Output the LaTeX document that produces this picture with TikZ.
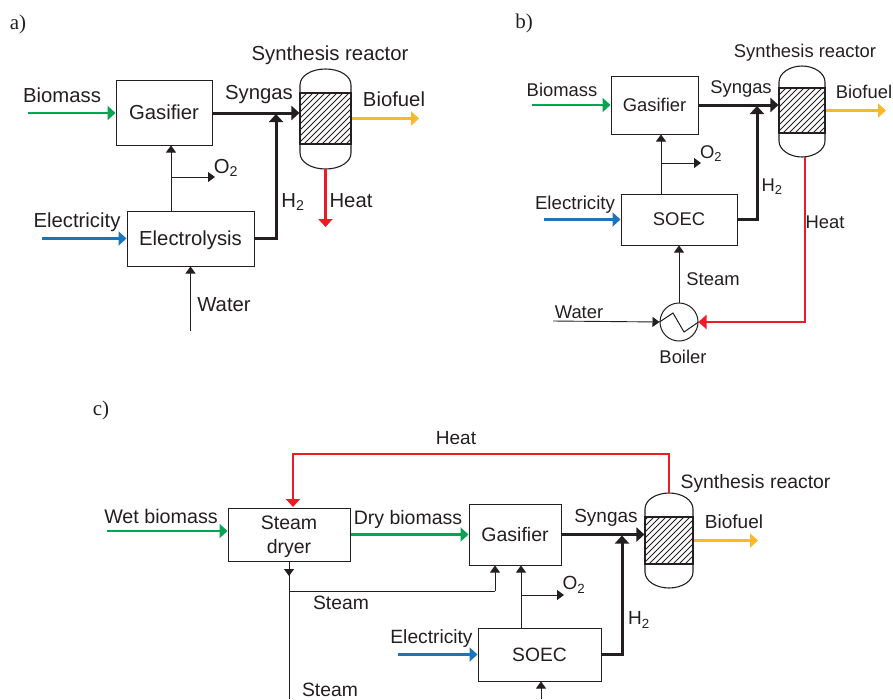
\documentclass[tikz,border=0pt]{standalone}
\usepackage{fontspec}
\setmainfont{Liberation Sans}
\newfontfamily\serifpart{Liberation Serif}
\usetikzlibrary{arrows.meta,calc}
\definecolor{ink}{HTML}{231F20}
\definecolor{cgreen}{HTML}{00A651}
\definecolor{cblue}{HTML}{1B75BC}
\definecolor{cyellow}{HTML}{FDB827}
\definecolor{cred}{HTML}{ED1C24}
\tikzset{
  lab/.style={inner sep=0pt,text=ink,font=\fontsize{#1}{#1}\selectfont,align=center},
  lab/.default=19,
  panel/.style={inner sep=0pt,text=ink,font=\serifpart\fontsize{21}{24}\selectfont},
  block/.style={draw=ink,line width=1pt,inner sep=0pt,text=ink,font=\fontsize{#1}{#1}\selectfont,align=center,text depth=0pt},
  block/.default=19,
  thinflow/.style={draw=ink,line width=0.9pt,-{Triangle[length=7pt,width=10pt]}},
  plainflow/.style={draw=ink,line width=0.9pt},
  thickflow/.style={draw=ink,line width=3pt,-{Triangle[length=8pt,width=14pt]}},
  colflow/.style={draw=#1,line width=2.6pt,-{Triangle[length=8pt,width=14pt]}},
  bed/.style={draw=ink,line width=1.1pt,inner sep=0pt},
}
% #1 name, #2 left, #3 right, #4 top, #5 bedtop, #6 bedbottom, #7 bottom
\newcommand{\reactordraw}[7]{
  \draw[ink,line width=1.1pt] (#2,#5) -- ($(#2,#4)+(0,16)$)
     .. controls ($(#2,#4)+(0,7)$) and ($(#2,#4)+(11,0)$) .. ({(#2+#3)/2},#4)
     .. controls ($(#3,#4)+(-11,0)$) and ($(#3,#4)+(0,7)$) .. ($(#3,#4)+(0,16)$) -- (#3,#5);
  \draw[ink,line width=1.1pt] (#2,#6) -- ($(#2,#7)+(0,-16)$)
     .. controls ($(#2,#7)+(0,-7)$) and ($(#2,#7)+(11,0)$) .. ({(#2+#3)/2},#7)
     .. controls ($(#3,#7)+(-11,0)$) and ($(#3,#7)+(0,-7)$) .. ($(#3,#7)+(0,-16)$) -- (#3,#6);
  \begin{scope}
    \clip (#2,#5) rectangle (#3,#6);
    \foreach \k in {0,...,24}{
      \draw[ink,line width=0.85pt] ({#2+\k*6-50},#6) -- ++(60,-60);
    }
  \end{scope}
  \node[bed,minimum width={(#3-#2)*1pt},minimum height={(#6-#5)*1pt}] (#1) at ({(#2+#3)/2},{(#5+#6)/2}) {};
  \coordinate (#1top) at ({(#2+#3)/2},#4);
  \coordinate (#1bot) at ({(#2+#3)/2},#7);
}
\begin{document}
\begin{tikzpicture}[x=1pt,y=-1pt]
\useasboundingbox (0,0) rectangle (893,699);

%%% a)
\node[panel] (pa) at (18,24) {a)};
\node[block=20.3,minimum width=96pt,minimum height=65pt] (aG) at (164,112.5) {Gasifier};
\node[block=20.3,minimum width=127pt,minimum height=55pt] (aE) at (190.5,238.5) {Electrolysis};
\reactordraw{aR}{300}{351}{69}{93}{144}{169}
\coordinate (aBio) at (28,113);
\coordinate (aEl) at (42,238.5);
\coordinate (aW) at (190.5,331);
\coordinate (aF) at (419,118.5);
\coordinate (aH) at (325.5,227);
\coordinate (aO) at (215,177);
\coordinate (aJ) at (276,113);
\draw[colflow=cgreen] (aBio) -- (aG.west |- aBio);
\draw[thickflow] (aG.east |- aJ) -- (aR.west |- aJ);
\draw[thickflow] (aE.east) -- (aE.east -| aJ) -- ($(aJ)+(0,1)$);
\draw[thinflow] (aE.north -| 171,0) -- (aG.south -| 171,0);
\draw[thinflow] (171,177) -- (aO);
\draw[colflow=cblue] (aEl) -- (aE.west);
\draw[thinflow] (aW) -- (aE.south);
\draw[colflow=cyellow] (aR.east) -- (aF);
\draw[colflow=cred] (aRbot) -- (aH);
\node[lab=20.3] (t1) at (62,95) {Biomass};
\node[lab=20.3] (t2) at (259,95) {Syngas};
\node[lab=20.3] (t3) at (330,55) {Synthesis reactor};
\node[lab=20.3] (t4) at (394,99) {Biofuel};
\node[lab=20.3] (t5) at (226,168) {O\textsubscript{2}};
\node[lab=20.3] (t6) at (77,222) {Electricity};
\node[lab=20.3] (t7) at (293,202) {H\textsubscript{2}};
\node[lab=20.3] (t8) at (351,201) {Heat};
\node[lab=20.3] (t9) at (224,305) {Water};

%%% b)
\node[panel] (pb) at (524,23) {b)};
\node[block=18.4,minimum width=87pt,minimum height=58pt] (bG) at (654.5,105) {Gasifier};
\node[block=18.4,minimum width=116pt,minimum height=51pt] (bS) at (679,219.5) {SOEC};
\reactordraw{bR}{779}{825}{66}{88}{133}{157}
\node[circle,draw=ink,line width=1pt,minimum size=38pt,inner sep=0pt] (bB) at (679,322) {};
\draw[ink,line width=1pt] (bB.west) -- (673,313) -- (684,332) -- (bB.east);
\coordinate (bBio) at (532,105);
\coordinate (bEl) at (544,219.5);
\coordinate (bW) at (553,321);
\coordinate (bF) at (886,110.5);
\coordinate (bO) at (701,163);
\coordinate (bJ) at (757,105);
\coordinate (bC) at (805,322);
\draw[colflow=cgreen] (bBio) -- (bG.west);
\draw[thickflow] (bG.east) -- (bR.west |- bG.east);
\draw[thickflow] (bS.east) -- (bS.east -| bJ) -- ($(bJ)+(0,1)$);
\draw[thinflow] (bS.north -| 661,0) -- (bG.south -| 661,0);
\draw[thinflow] (661,163) -- (bO);
\draw[colflow=cblue] (bEl) -- (bS.west);
\draw[thinflow] (bB.north) -- (bS.south -| bB.north);
\draw[thinflow] (bW) -- (bB.west);
\draw[colflow=cyellow] (bR.east) -- (bF);
\draw[colflow=cred] (bC |- bRbot) -- (bC) -- (bB.east);
\node[lab=18.4] (u1) at (562,90) {Biomass};
\node[lab=18.4] (u2) at (741,89) {Syngas};
\node[lab=18.4] (u3) at (805,53) {Synthesis reactor};
\node[lab=18.4] (u4) at (864,92) {Biofuel};
\node[lab=18.4] (u5) at (711,154) {O\textsubscript{2}};
\node[lab=18.7] (u6) at (575,205) {Electricity};
\node[lab=18.4] (u7) at (772,187) {H\textsubscript{2}};
\node[lab=18.4] (u8) at (825,222) {Heat};
\node[lab=18.4] (u9) at (713,279) {Steam};
\node[lab=18.4] (u10) at (579,312) {Water};
\node[lab=18.4] (u11) at (683,357) {Boiler};

%%% c)
\node[panel] (pc) at (101,410) {c)};
\node[block=19.5,minimum width=122pt,minimum height=53pt] (cD) at (289,534.5) {Steam\\[4pt]dryer};
\node[block=19.5,minimum width=92pt,minimum height=61pt] (cG) at (515,534.5) {Gasifier};
\node[block=19.3,minimum width=123pt,minimum height=53pt] (cS) at (539.5,654.5) {SOEC};
\reactordraw{cR}{645}{693}{493}{517}{564}{588}
\coordinate (cWet) at (107,531);
\coordinate (cF) at (758,540.5);
\coordinate (cO) at (564,595);
\coordinate (cJ) at (622,534.5);
\coordinate (cT) at (669,493);
\coordinate (cTc) at (669,454);
\coordinate (cHc) at (293,454);
\coordinate (cE) at (398,654.5);
\coordinate (cBot) at (541,699);
\coordinate (cSd) at (289,699);
\coordinate (cSb) at (289,576);
\coordinate (cSc) at (289,591);
\coordinate (cSe) at (495,591);
\draw[colflow=cgreen] (cWet) -- (cD.west |- cWet);
\draw[colflow=cgreen] (cD.east) -- (cG.west);
\draw[thickflow] (cG.east) -- (cR.west |- cG.east);
\draw[thickflow] (cS.east) -- (cS.east -| cJ) -- ($(cJ)+(0,1)$);
\draw[colflow=cred] (cT) -- (cTc) -- (cHc) -- (293,507);
\draw[plainflow] (cD.south) -- (cSd);
\draw[thinflow] (cD.south) -- (cSb);
\draw[plainflow] (cSc) -- (cSe);
\draw[thinflow] (cSe) -- (cG.south -| cSe);
\draw[thinflow] (cS.north -| 521,0) -- (cG.south -| 521,0);
\draw[thinflow] (521,595) -- (cO);
\draw[colflow=cblue] (cE) -- (cS.west);
\draw[thinflow] (cBot) -- (cS.south -| cBot);
\draw[colflow=cyellow] (cR.east) -- (cF);
\node[lab=19] (v1) at (456,438) {Heat};
\node[lab=19.4] (v2) at (755.5,483) {Synthesis reactor};
\node[lab=19.7] (v3) at (161,516) {Wet biomass};
\node[lab=19.5] (v4) at (408,519) {Dry biomass};
\node[lab=19] (v5) at (606,518) {Syngas};
\node[lab=19] (v6) at (734,522) {Biofuel};
\node[lab=19] (v7) at (574,585) {O\textsubscript{2}};
\node[lab=19.3] (v8) at (341,603) {Steam};
\node[lab=19] (v9) at (639,620) {H\textsubscript{2}};
\node[lab=19.2] (v10) at (431.5,639) {Electricity};
\node[lab=19.3] (v11) at (330,690) {Steam};
\end{tikzpicture}
\end{document}
